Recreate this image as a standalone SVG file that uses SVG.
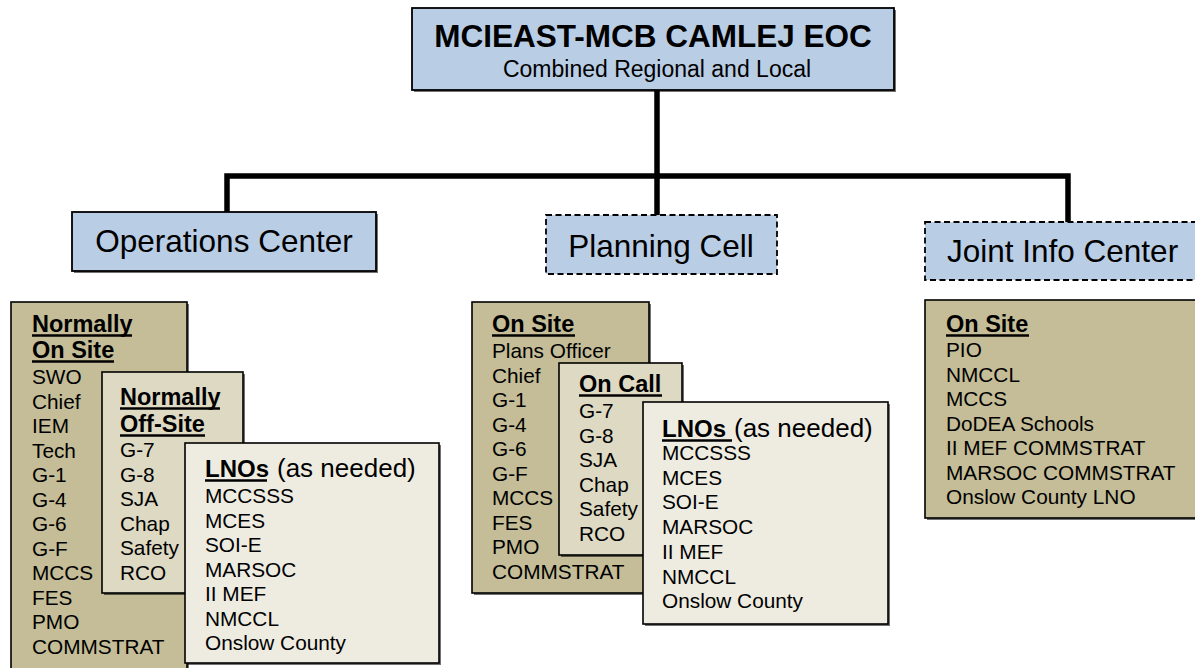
<svg xmlns="http://www.w3.org/2000/svg" width="1195" height="668" viewBox="0 0 1195 668">
<defs>
<style>
text{font-family:"Liberation Sans",Arial,sans-serif;fill:#000}
.blue{fill:#B9CDE5;stroke:#000;stroke-width:1.8}
.dash{stroke-dasharray:6 3.5}
.tan{fill:#C4BD97;stroke:#000;stroke-width:1.6}
.mid{fill:#DDD9C3;stroke:#000;stroke-width:1.6}
.lite{fill:#EEECE1;stroke:#000;stroke-width:1.6}
.sh{fill:#000;opacity:0.55}
.hd{font-weight:bold;font-size:23.5px}
.it{font-size:20.8px}
.big{font-size:31.5px}
.ul{stroke:#000;stroke-width:2.6}
.con{stroke:#000;stroke-width:5.5;fill:none;stroke-linecap:square}
</style>
</defs>

<g id="connectors">
<path class="con" d="M657 91 V176 M227 176 H1068 M227 176 V211 M657 176 V214 M1068 176 V221"/>
</g>

<g id="eoc">
<rect class="sh" x="414" y="10" width="482" height="82"/>
<rect class="blue" x="412" y="8" width="482" height="82"/>
<text x="653" y="47" text-anchor="middle" font-weight="bold" font-size="31.5">MCIEAST-MCB CAMLEJ EOC</text>
<text x="657" y="77" text-anchor="middle" font-size="23">Combined Regional and Local</text>
</g>

<g id="ops-center">
<rect class="sh" x="74" y="214" width="304" height="59"/>
<rect class="blue" x="72" y="212" width="304" height="59"/>
<text class="big" x="224" y="252" text-anchor="middle">Operations Center</text>
</g>

<g id="planning-cell">
<rect class="blue dash" x="546" y="215" width="231" height="59"/>
<text class="big" x="661" y="257" text-anchor="middle">Planning Cell</text>
</g>

<g id="jic">
<rect class="blue dash" x="925" y="222" width="290" height="58"/>
<text class="big" x="947" y="262">Joint Info Center</text>
</g>

<g id="ops-onsite">
<rect class="sh" x="13" y="304" width="176" height="380"/>
<rect class="tan" x="11" y="302" width="176" height="380"/>
<text class="hd" x="32" y="332">Normally</text>
<line class="ul" x1="32" y1="335.5" x2="132" y2="335.5"/>
<text class="hd" x="32" y="358">On Site</text>
<line class="ul" x1="32" y1="361.5" x2="114" y2="361.5"/>
<text class="it" x="32" y="384">SWO</text>
<text class="it" x="32" y="408.5">Chief</text>
<text class="it" x="32" y="433">IEM</text>
<text class="it" x="32" y="457.5">Tech</text>
<text class="it" x="32" y="482">G-1</text>
<text class="it" x="32" y="506.5">G-4</text>
<text class="it" x="32" y="531">G-6</text>
<text class="it" x="32" y="555.5">G-F</text>
<text class="it" x="32" y="580">MCCS</text>
<text class="it" x="32" y="604.5">FES</text>
<text class="it" x="32" y="629">PMO</text>
<text class="it" x="32" y="653.5">COMMSTRAT</text>
</g>

<g id="ops-offsite">
<rect class="sh" x="104" y="374" width="141" height="221"/>
<rect class="mid" x="102" y="372" width="141" height="221"/>
<text class="hd" x="120" y="405">Normally</text>
<line class="ul" x1="120" y1="408.5" x2="220" y2="408.5"/>
<text class="hd" x="120" y="432">Off-Site</text>
<line class="ul" x1="120" y1="435.5" x2="205" y2="435.5"/>
<text class="it" x="120" y="457">G-7</text>
<text class="it" x="120" y="481.5">G-8</text>
<text class="it" x="120" y="506">SJA</text>
<text class="it" x="120" y="530.5">Chap</text>
<text class="it" x="120" y="555">Safety</text>
<text class="it" x="120" y="579.5">RCO</text>
</g>

<g id="ops-lnos">
<rect class="sh" x="187" y="445" width="254" height="220"/>
<rect class="lite" x="185" y="443" width="254" height="220"/>
<text x="205" y="477"><tspan font-weight="bold" font-size="24">LNOs</tspan><tspan x="277" font-size="26">(as needed)</tspan></text>
<line class="ul" x1="205" y1="480.5" x2="267" y2="480.5"/>
<text class="it" x="205" y="503">MCCSSS</text>
<text class="it" x="205" y="527.5">MCES</text>
<text class="it" x="205" y="552">SOI-E</text>
<text class="it" x="205" y="576.5">MARSOC</text>
<text class="it" x="205" y="601">II MEF</text>
<text class="it" x="205" y="625.5">NMCCL</text>
<text class="it" x="205" y="650">Onslow County</text>
</g>

<g id="plan-onsite">
<rect class="sh" x="474" y="304" width="177" height="291"/>
<rect class="tan" x="472" y="302" width="177" height="291"/>
<text class="hd" x="492" y="332">On Site</text>
<line class="ul" x1="492" y1="335.5" x2="575" y2="335.5"/>
<text class="it" x="492" y="358">Plans Officer</text>
<text class="it" x="492" y="382.5">Chief</text>
<text class="it" x="492" y="407">G-1</text>
<text class="it" x="492" y="431.5">G-4</text>
<text class="it" x="492" y="456">G-6</text>
<text class="it" x="492" y="480.5">G-F</text>
<text class="it" x="492" y="505">MCCS</text>
<text class="it" x="492" y="529.5">FES</text>
<text class="it" x="492" y="554">PMO</text>
<text class="it" x="492" y="578.5">COMMSTRAT</text>
</g>

<g id="plan-oncall">
<rect class="sh" x="561" y="365" width="123" height="192"/>
<rect class="mid" x="559" y="363" width="123" height="192"/>
<text class="hd" x="579" y="392">On Call</text>
<line class="ul" x1="579" y1="395.5" x2="662" y2="395.5"/>
<text class="it" x="579" y="418">G-7</text>
<text class="it" x="579" y="442.5">G-8</text>
<text class="it" x="579" y="467">SJA</text>
<text class="it" x="579" y="491.5">Chap</text>
<text class="it" x="579" y="516">Safety</text>
<text class="it" x="579" y="540.5">RCO</text>
</g>

<g id="plan-lnos">
<rect class="sh" x="645" y="404" width="245" height="222"/>
<rect class="lite" x="643" y="402" width="245" height="222"/>
<text x="662" y="437"><tspan font-weight="bold" font-size="24">LNOs</tspan><tspan x="734" font-size="26">(as needed)</tspan></text>
<line class="ul" x1="662" y1="440.5" x2="732" y2="440.5"/>
<text class="it" x="662" y="460">MCCSSS</text>
<text class="it" x="662" y="484.7">MCES</text>
<text class="it" x="662" y="509.4">SOI-E</text>
<text class="it" x="662" y="534">MARSOC</text>
<text class="it" x="662" y="558.8">II MEF</text>
<text class="it" x="662" y="583.5">NMCCL</text>
<text class="it" x="662" y="608">Onslow County</text>
</g>

<g id="jic-onsite">
<rect class="sh" x="927" y="302" width="290" height="218"/>
<rect class="tan" x="925" y="300" width="290" height="218"/>
<text class="hd" x="946" y="332">On Site</text>
<line class="ul" x1="946" y1="335.5" x2="1029" y2="335.5"/>
<text class="it" x="946" y="357">PIO</text>
<text class="it" x="946" y="381.5">NMCCL</text>
<text class="it" x="946" y="406">MCCS</text>
<text class="it" x="946" y="430.5">DoDEA Schools</text>
<text class="it" x="946" y="455">II MEF COMMSTRAT</text>
<text class="it" x="946" y="479.5">MARSOC COMMSTRAT</text>
<text class="it" x="946" y="504">Onslow County LNO</text>
</g>
</svg>
